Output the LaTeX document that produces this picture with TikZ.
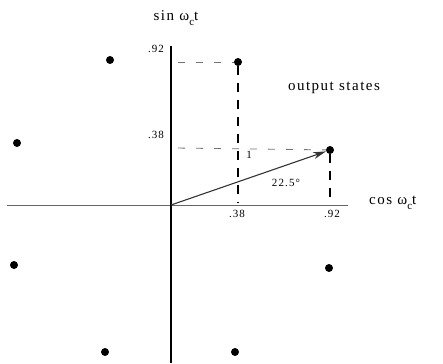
\documentclass[tikz,border=0pt]{standalone}
\usepackage{fontspec}
\setmainfont{Liberation Serif}
\newfontfamily\spaced[LetterSpace=10]{Liberation Serif}
\usetikzlibrary{arrows.meta}

\begin{document}
\begin{tikzpicture}[x=1pt, y=-1pt, state/.style={circle, fill=black, inner sep=0pt, minimum size=8pt}, axis/.style={draw=black!60, line width=0.8pt}, vguide/.style={draw=black, line width=1.3pt, dash pattern=on 9pt off 8pt}, hguide/.style={draw=black!55, line width=0.9pt, dash pattern=on 7pt off 11pt}, vec/.style={-{Stealth[length=13pt, width=7pt]}, draw=black!80, line width=1.1pt}, tick/.style={font=\fontsize{11}{13}\selectfont\spaced, inner sep=1pt}, lbl/.style={font=\fontsize{15}{17}\selectfont\spaced, inner sep=1pt}]
\useasboundingbox (0,0) rectangle (443,363);
\coordinate (o) at (171,205);
\coordinate (xl) at (7,205);
\coordinate (xr) at (348,205);
\coordinate (yt) at (171,46);
\coordinate (yb) at (171,363);
\draw[axis] (xl) -- (xr);
\draw[line width=1.6pt] (yt) -- (yb);
\node[state] (s1) at (330,150) {};
\node[state] (s2) at (238,62) {};
\node[state] (s3) at (110,60) {};
\node[state] (s4) at (17,143) {};
\node[state] (s5) at (14,265) {};
\node[state] (s6) at (105,352) {};
\node[state] (s7) at (235,352) {};
\node[state] (s8) at (329,268) {};
\coordinate (y92) at (178,62);
\coordinate (y38) at (178,148);
\coordinate (x38) at (238,203);
\coordinate (x92) at (330,203);
\draw[hguide] (y92) -- (s2);
\draw[vguide] (s2) -- (x38);
\draw[hguide] (y38) -- (s1);
\draw[vguide] (s1) -- (x92);
\draw[vec] (o) -- (s1);
\node[lbl] (sin) at (176,18) {sin ω\raisebox{-5pt}{\fontsize{11}{13}\selectfont c}t};
\node[lbl, anchor=west] (cos) at (368,203) {cos ω\raisebox{-5pt}{\fontsize{11}{13}\selectfont c}t};
\node[lbl] (out) at (334,88) {output states};
\node[tick] (t92y) at (156,49) {.92};
\node[tick] (t38y) at (156,135) {.38};
\node[tick] (t38x) at (237,214) {.38};
\node[tick] (t92x) at (332,214) {.92};
\node[tick] (mag) at (249,155) {1};
\node[tick] (ang) at (286,183) {22.5°};
\end{tikzpicture}
\end{document}
